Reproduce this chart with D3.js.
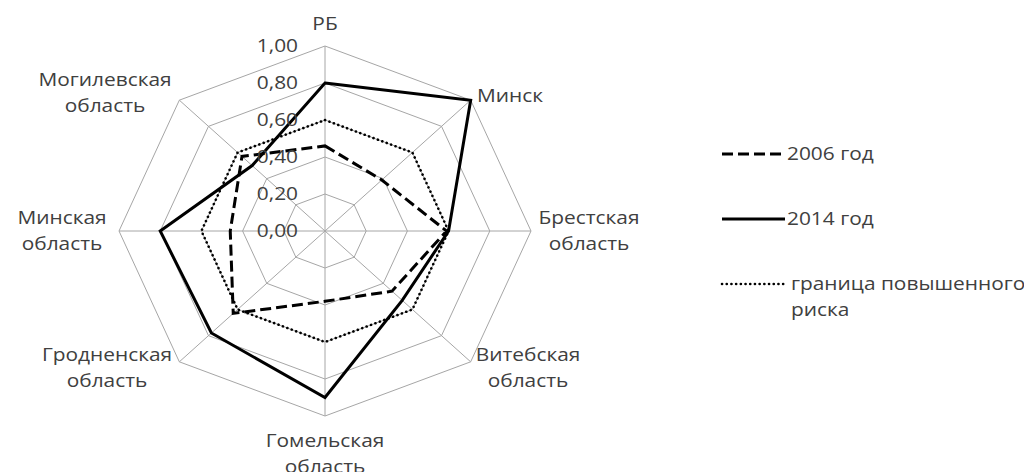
<!DOCTYPE html>
<html><head><meta charset="utf-8">
<script src="https://cdn.jsdelivr.net/npm/d3@7"></script>
<style>
html,body{margin:0;padding:0;background:#fff;}
svg{display:block;}
text{font-family:"Open Sans",Lato,sans-serif;fill:#404040;}
</style></head>
<body><svg id="c" width="1024" height="472"></svg>
<script>
const categories = ["РБ","Минск","Брестская область","Витебская область","Гомельская область","Гродненская область","Минская область","Могилевская область"];
const series2006 = [0.46,0.39,0.59,0.46,0.38,0.63,0.46,0.57];
const series2014 = [0.80,1.00,0.60,0.53,0.90,0.78,0.80,0.50];
const seriesRisk = [0.60,0.60,0.60,0.60,0.60,0.60,0.60,0.60];
const tickValues = [0,0.2,0.4,0.6,0.8,1.0];
const tickLabels = ["0,00","0,20","0,40","0,60","0,80","1,00"];
const seriesNames = ["2006 год","2014 год","граница повышенного риска"];

const FS = 18, SX = 1.16;
const svg = d3.select("#c");
const cx = 325, cy = 231;
const rX = d3.scaleLinear().domain([0,1]).range([0,206]);
const rY = d3.scaleLinear().domain([0,1]).range([0,185]);
const ang = d3.scaleLinear().domain([0,categories.length]).range([0,2*Math.PI]);
const px = (v,i)=> cx + rX(v)*Math.sin(ang(i));
const py = (v,i)=> cy - rY(v)*Math.cos(ang(i));

function label(parent, x, y, lines, anchor){
  const t = parent.append("g").attr("transform",`translate(${x},${y}) scale(${SX},1)`)
    .append("text").attr("text-anchor",anchor).attr("font-size",FS);
  lines.forEach((w,k)=>{
    t.append("tspan").attr("x",0).attr("dy",k===0?"0.35em":26).text(w);
  });
}

const g = svg.append("g");
// grid
tickValues.slice(1).forEach(t=>{
  g.append("path")
   .attr("d", d3.line()(categories.map((c,i)=>[px(t,i),py(t,i)])) + "Z")
   .attr("fill","none").attr("stroke","#a6a6a6").attr("stroke-width",1);
});
categories.forEach((c,i)=>{
  g.append("line").attr("x1",cx).attr("y1",cy).attr("x2",px(1,i)).attr("y2",py(1,i))
   .attr("stroke","#a6a6a6").attr("stroke-width",1);
});

// series
const lineGen = d3.line().x(d=>d[0]).y(d=>d[1]).curve(d3.curveLinearClosed);
const styles = [
  {data:series2006, dash:"11,5", width:3, cap:"butt"},
  {data:series2014, dash:null, width:3, cap:"butt"},
  {data:seriesRisk, dash:"0.1,4.6", width:2.6, cap:"round"}
];
[styles[2],styles[0],styles[1]].forEach(s=>{
  g.append("path").attr("d", lineGen(s.data.map((v,i)=>[px(v,i),py(v,i)])))
   .attr("fill","none").attr("stroke","#000").attr("stroke-width",s.width)
   .attr("stroke-linejoin","miter").attr("stroke-linecap",s.cap)
   .attr("stroke-dasharray",s.dash);
});

// tick labels
tickValues.forEach((t,k)=>{
  label(g, cx-27, py(t,0), [tickLabels[k]], "end");
});

// category labels
const labelPos = [
  {x:325,y:24,anchor:"middle"},
  {x:477,y:96,anchor:"start"},
  {x:589,y:218,anchor:"middle"},
  {x:528,y:355,anchor:"middle"},
  {x:325,y:441,anchor:"middle"},
  {x:107,y:355,anchor:"middle"},
  {x:62,y:218,anchor:"middle"},
  {x:105,y:80,anchor:"middle"}
];
categories.forEach((c,i)=>{
  label(g, labelPos[i].x, labelPos[i].y, c.split(" "), labelPos[i].anchor);
});

// legend
const legY = [154,219,284];
[styles[0],styles[1],styles[2]].forEach((s,k)=>{
  svg.append("line").attr("x1",722).attr("x2",785).attr("y1",legY[k]).attr("y2",legY[k])
   .attr("stroke","#000").attr("stroke-width",s.width).attr("stroke-linecap",s.cap)
   .attr("stroke-dasharray",s.dash);
});
label(svg, 787, legY[0], [seriesNames[0]], "start");
label(svg, 787, legY[1], [seriesNames[1]], "start");
label(svg, 791, legY[2], ["граница повышенного","риска"], "start");
</script></body></html>
